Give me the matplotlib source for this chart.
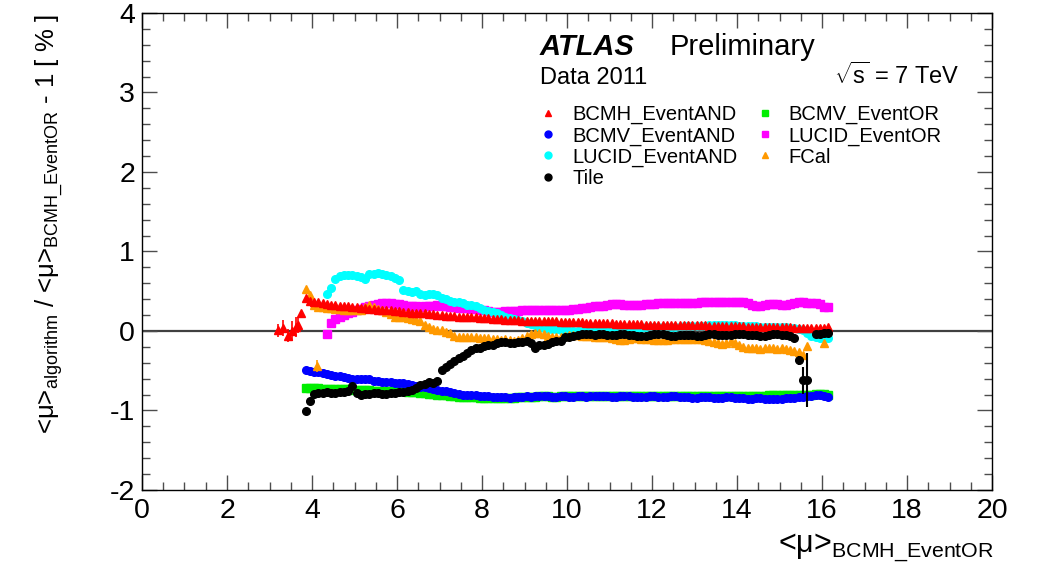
import numpy as np
import matplotlib.pyplot as plt
from matplotlib.ticker import MultipleLocator
from matplotlib.lines import Line2D

plt.rcParams['font.family'] = ['Liberation Sans', 'DejaVu Sans']
plt.rcParams['mathtext.fontset'] = 'custom'
plt.rcParams['mathtext.rm'] = 'Liberation Sans'
plt.rcParams['mathtext.it'] = 'Liberation Sans:italic'
plt.rcParams['mathtext.bf'] = 'Liberation Sans:bold'
plt.rcParams['axes.unicode_minus'] = False

nan = np.nan

# bin centres in <mu>_BCMH_EventOR
mu = np.round(3.85 + 0.1 * np.arange(124), 2)

bcmh_and = [
    0.41, 0.38, 0.37, 0.36, 0.35, 0.34, 0.33, 0.33, 0.32, 0.31,
    0.31, 0.30, 0.30, 0.29, 0.29, 0.28, 0.28, 0.27, 0.27, 0.26,
    0.26, 0.25, 0.25, 0.24, 0.24, 0.23, 0.23, 0.22, 0.22, 0.21,
    0.21, 0.20, 0.20, 0.19, 0.19, 0.19, 0.18, 0.18, 0.17, 0.17,
    0.17, 0.16, 0.16, 0.16, 0.15, 0.15, 0.15, 0.14, 0.14, 0.14,
    0.14, 0.13, 0.13, 0.13, 0.13, 0.12, 0.12, 0.12, 0.12, 0.12,
    0.11, 0.11, 0.11, 0.11, 0.11, 0.11, 0.10, 0.10, 0.10, 0.10,
    0.10, 0.10, 0.10, 0.09, 0.09, 0.09, 0.09, 0.09, 0.09, 0.09,
    0.08, 0.08, 0.08, 0.08, 0.08, 0.08, 0.08, 0.07, 0.07, 0.07,
    0.07, 0.07, 0.07, 0.07, 0.07, 0.06, 0.06, 0.06, 0.06, 0.06,
    0.06, 0.06, 0.06, 0.06, 0.05, 0.05, 0.05, 0.05, 0.05, 0.05,
    0.05, 0.05, 0.05, 0.05, 0.05, 0.04, 0.04, 0.04, 0.04, 0.04,
    0.04, 0.04, 0.04, 0.05]

# low-mu BCMH_EventAND points with their errors
bcmh_low_mu = [3.20, 3.32, 3.44, 3.53, 3.62, 3.68, 3.75]
bcmh_low_val = [0.01, 0.04, -0.06, 0.00, 0.05, 0.08, 0.23]
bcmh_low_err = [0.08, 0.10, 0.08, 0.12, 0.12, 0.10, 0.01]

bcmv_and = [
    -0.49, -0.50, -0.51, -0.52, -0.53, -0.54, -0.55, -0.56, -0.57, -0.58,
    -0.59, -0.60, -0.61, -0.60, -0.60, -0.61, -0.63, -0.63, -0.64, -0.64,
    -0.64, -0.65, -0.65, -0.66, -0.67, -0.68, -0.69, -0.70, -0.71, -0.72,
    -0.73, -0.74, -0.75, -0.76, -0.77, -0.78, -0.79, -0.80, -0.80, -0.81,
    -0.81, -0.82, -0.82, -0.82, -0.83, -0.83, -0.83, -0.83, -0.84, -0.83,
    -0.83, -0.83, -0.82, -0.83, -0.82, -0.82, -0.82, -0.82, -0.83, -0.83,
    -0.82, -0.82, -0.83, -0.83, -0.82, -0.82, -0.83, -0.82, -0.82, -0.82,
    -0.82, -0.82, -0.83, -0.83, -0.82, -0.82, -0.82, -0.83, -0.83, -0.83,
    -0.83, -0.82, -0.82, -0.83, -0.83, -0.83, -0.82, -0.82, -0.83, -0.83,
    -0.83, -0.84, -0.84, -0.83, -0.83, -0.83, -0.84, -0.84, -0.84, -0.83,
    -0.83, -0.84, -0.84, -0.84, -0.85, -0.85, -0.84, -0.84, -0.85, -0.85,
    -0.86, -0.85, -0.85, -0.84, -0.84, -0.84, -0.83, -0.83, -0.82, -0.82,
    -0.81, -0.80, -0.82, -0.83]

bcmv_or = [
    -0.72, -0.72, -0.72, -0.72, -0.73, -0.73, -0.73, -0.73, -0.73, -0.73,
    -0.73, -0.74, -0.74, -0.74, -0.74, -0.74, -0.75, -0.75, -0.75, -0.75,
    -0.76, -0.76, -0.76, -0.76, -0.77, -0.77, -0.77, -0.78, -0.78, -0.79,
    -0.79, -0.80, -0.81, -0.81, -0.82, -0.82, -0.83, -0.83, -0.83, -0.83,
    -0.83, -0.84, -0.84, -0.84, -0.84, -0.84, -0.84, -0.84, -0.84, -0.84,
    -0.83, -0.83, -0.83, -0.83, -0.83, -0.82, -0.82, -0.82, -0.83, -0.83,
    -0.82, -0.82, -0.82, -0.82, -0.82, -0.82, -0.82, -0.82, -0.82, -0.82,
    -0.82, -0.82, -0.82, -0.82, -0.82, -0.82, -0.82, -0.82, -0.82, -0.82,
    -0.82, -0.82, -0.82, -0.82, -0.82, -0.82, -0.82, -0.82, -0.82, -0.82,
    -0.82, -0.82, -0.82, -0.82, -0.82, -0.82, -0.82, -0.82, -0.82, -0.82,
    -0.82, -0.82, -0.82, -0.82, -0.82, -0.82, -0.82, -0.82, -0.82, -0.81,
    -0.81, -0.81, -0.81, -0.81, -0.81, -0.81, -0.80, -0.80, -0.80, -0.80,
    -0.79, -0.79, -0.79, -0.80]

lucid_and = [
    nan, nan, nan, nan, nan, 0.47, 0.54, 0.66, 0.69, 0.70,
    0.70, 0.70, 0.69, 0.68, 0.66, 0.72, 0.72, 0.73, 0.72, 0.71,
    0.69, 0.67, 0.64, 0.52, 0.50, 0.49, 0.50, 0.47, 0.45, 0.46,
    0.46, 0.45, 0.42, 0.40, 0.38, 0.37, 0.37, 0.35, 0.33, 0.33,
    0.31, 0.29, 0.27, 0.25, 0.24, 0.22, 0.20, 0.18, 0.16, 0.15,
    0.14, 0.12, 0.10, 0.09, 0.07, 0.05, 0.04, 0.03, 0.02, 0.02,
    0.01, 0.01, 0.00, 0.00, 0.00, 0.00, 0.01, 0.01, 0.01, 0.01,
    0.01, 0.02, 0.02, 0.03, 0.03, 0.04, 0.04, 0.04, 0.04, 0.04,
    0.05, 0.05, 0.05, 0.05, 0.05, 0.05, 0.05, 0.05, 0.05, 0.06,
    0.06, 0.06, 0.06, 0.06, 0.06, 0.07, 0.07, 0.07, 0.07, 0.07,
    0.07, 0.07, 0.06, 0.06, 0.06, 0.06, 0.06, 0.05, 0.05, 0.05,
    0.05, 0.05, 0.05, 0.05, 0.04, 0.04, 0.03, 0.01, -0.02, -0.06,
    -0.08, -0.09, -0.09, -0.09]

lucid_or = [
    nan, nan, nan, nan, nan, -0.04, 0.10, 0.15, 0.18, 0.20,
    0.22, 0.24, 0.26, 0.28, 0.30, 0.31, 0.33, 0.34, 0.35, 0.35,
    0.35, 0.34, 0.34, 0.33, 0.32, 0.31, 0.31, 0.30, 0.31, 0.32,
    0.32, 0.33, 0.32, 0.31, 0.30, 0.30, 0.29, 0.29, 0.29, 0.28,
    0.28, 0.27, 0.26, 0.25, 0.24, 0.24, 0.24, 0.25, 0.25, 0.25,
    0.25, 0.26, 0.26, 0.26, 0.26, 0.27, 0.27, 0.27, 0.26, 0.26,
    0.27, 0.27, 0.27, 0.28, 0.28, 0.29, 0.29, 0.30, 0.31, 0.31,
    0.32, 0.33, 0.34, 0.34, 0.34, 0.33, 0.33, 0.33, 0.33, 0.33,
    0.34, 0.34, 0.34, 0.35, 0.35, 0.35, 0.35, 0.35, 0.35, 0.35,
    0.35, 0.35, 0.35, 0.36, 0.36, 0.36, 0.36, 0.36, 0.37, 0.37,
    0.37, 0.37, 0.37, 0.36, 0.35, 0.33, 0.32, 0.32, 0.33, 0.34,
    0.34, 0.34, 0.33, 0.33, 0.34, 0.35, 0.36, 0.36, 0.35, 0.35,
    0.35, 0.34, 0.30, 0.30]

fcal = [
    0.53, 0.45, 0.33, 0.30, 0.30, 0.29, 0.29, 0.28, 0.28, 0.27,
    0.27, 0.26, 0.26, 0.27, 0.30, 0.33, 0.30, 0.28, 0.26, 0.24,
    0.21, 0.18, 0.18, 0.17, 0.16, 0.15, 0.14, 0.12, 0.08, 0.05,
    0.03, 0.01, 0.01, -0.01, -0.03, -0.06, -0.07, -0.07, -0.08, -0.08,
    -0.08, -0.09, -0.09, -0.09, -0.10, -0.10, -0.11, -0.10, -0.11, -0.12,
    -0.11, -0.09, -0.06, -0.04, -0.03, -0.02, -0.04, -0.06, -0.07, -0.08,
    -0.08, -0.06, -0.05, -0.05, -0.05, -0.06, -0.06, -0.06, -0.07, -0.07,
    -0.08, -0.08, -0.09, -0.10, -0.11, -0.11, -0.10, -0.09, -0.09, -0.10,
    -0.10, -0.10, -0.11, -0.11, -0.11, -0.11, -0.10, -0.10, -0.10, -0.10,
    -0.10, -0.10, -0.10, -0.10, -0.11, -0.12, -0.14, -0.15, -0.16, -0.15,
    -0.13, -0.15, -0.18, -0.20, -0.22, -0.22, -0.22, -0.23, -0.22, -0.22,
    -0.22, -0.23, -0.22, -0.23, -0.24, -0.25, -0.26, -0.30, -0.19, nan,
    nan, nan, -0.15, nan]

# isolated FCal point below the others
fcal_low_mu = [4.12]
fcal_low_val = [-0.44]
fcal_low_err = [0.08]

tile = [
    -1.01, -0.88, -0.79, -0.78, -0.78, -0.77, -0.78, -0.78, -0.77, -0.77,
    -0.76, -0.69, -0.78, -0.80, -0.79, -0.79, -0.78, -0.78, -0.79, -0.79,
    -0.78, -0.78, -0.77, -0.77, -0.76, -0.74, -0.72, -0.68, -0.67, -0.64,
    -0.65, -0.63, -0.49, -0.45, -0.41, -0.38, -0.34, -0.32, -0.28, -0.24,
    -0.22, -0.21, -0.19, -0.18, -0.17, -0.15, -0.14, -0.14, -0.15, -0.15,
    -0.14, -0.14, -0.13, -0.15, -0.22, -0.18, -0.17, -0.16, -0.14, -0.13,
    -0.12, -0.08, -0.07, -0.06, -0.05, -0.04, -0.04, -0.04, -0.05, -0.04,
    -0.04, -0.05, -0.05, -0.05, -0.04, -0.04, -0.05, -0.05, -0.06, -0.06,
    -0.06, -0.05, -0.04, -0.04, -0.04, -0.05, -0.06, -0.06, -0.05, -0.05,
    -0.05, -0.05, -0.06, -0.06, -0.05, -0.04, -0.04, -0.05, -0.05, -0.05,
    -0.05, -0.04, -0.04, -0.04, -0.05, -0.05, -0.05, -0.06, -0.06, -0.05,
    -0.04, -0.04, -0.05, -0.05, -0.06, -0.09, -0.37, -0.62, -0.62, nan,
    -0.04, -0.04, -0.03, -0.02]
tile_err = np.zeros(len(mu))
tile_err[116:119] = [0.06, 0.17, 0.34]

fig = plt.figure(figsize=(10.38, 5.77), dpi=100)
ax = fig.add_axes([0.1368, 0.1508, 0.8189, 0.8267])

ax.axhline(0, color='0.25', lw=1.6, zorder=0.5)

ms = 5.5
ax.plot(mu, bcmv_or, ls='none', marker='s', ms=ms, color='#00ee00', zorder=2)
ax.plot(mu, bcmv_and, ls='none', marker='o', ms=ms, color='#0000ff', zorder=3)
ax.plot(mu, lucid_or, ls='none', marker='s', ms=ms, color='#ff00ff', zorder=3)
ax.plot(mu, lucid_and, ls='none', marker='o', ms=ms, color='#00ffff', zorder=4)
ax.plot(mu, fcal, ls='none', marker='^', ms=ms, color='#ff9900', zorder=5)
ax.errorbar(fcal_low_mu, fcal_low_val, yerr=fcal_low_err, fmt='^', ms=ms,
            color='#ff9900', elinewidth=1.2, capsize=0, zorder=5)
ax.plot(mu, bcmh_and, ls='none', marker='^', ms=ms, color='#ff0000', zorder=6)
ax.errorbar(bcmh_low_mu, bcmh_low_val, yerr=bcmh_low_err, fmt='^', ms=ms,
            color='#ff0000', elinewidth=1.2, capsize=0, zorder=6)
ax.errorbar(mu, tile, yerr=tile_err, fmt='o', ms=ms, color='black',
            elinewidth=1.5, capsize=0, zorder=7)

ax.set_xlim(0, 20)
ax.set_ylim(-2, 4)
ax.xaxis.set_major_locator(MultipleLocator(2))
ax.xaxis.set_minor_locator(MultipleLocator(0.5))
ax.yaxis.set_major_locator(MultipleLocator(1))
ax.yaxis.set_minor_locator(MultipleLocator(0.2))
ax.tick_params(which='both', direction='in', top=True, right=True,
               color='0.3', labelsize=20.5)
ax.tick_params(which='major', length=11, width=1)
ax.tick_params(which='minor', length=5.5, width=1)
ax.tick_params(axis='x', pad=6)
ax.tick_params(axis='y', pad=5)
for sp in ax.spines.values():
    sp.set_linewidth(1.0)

handles = [
    Line2D([], [], ls='none', marker='^', ms=5, color='#ff0000'),
    Line2D([], [], ls='none', marker='o', ms=5, color='#0000ff'),
    Line2D([], [], ls='none', marker='o', ms=5, color='#00ffff'),
    Line2D([], [], ls='none', marker='o', ms=5, color='black'),
    Line2D([], [], ls='none', marker='s', ms=5, color='#00ee00'),
    Line2D([], [], ls='none', marker='s', ms=5, color='#ff00ff'),
    Line2D([], [], ls='none', marker='^', ms=5, color='#ff9900'),
]
labels = ['BCMH_EventAND', 'BCMV_EventAND', 'LUCID_EventAND', 'Tile',
          'BCMV_EventOR', 'LUCID_EventOR', 'FCal']
ax.legend(handles, labels, ncol=2, loc='upper left',
          bbox_to_anchor=(538 / 1038, 1 - 105 / 577),
          bbox_transform=fig.transFigure, frameon=False, fontsize=14.5,
          handlelength=1.0, handletextpad=0.7, columnspacing=0.85,
          labelspacing=0.1, borderpad=0, borderaxespad=0)

fig.text(540 / 1038, 1 - 55 / 577, 'ATLAS', fontsize=21, fontweight='bold',
         style='italic', va='baseline')
fig.text(670 / 1038, 1 - 55 / 577, 'Preliminary', fontsize=21, va='baseline')
fig.text(540 / 1038, 1 - 84 / 577, 'Data 2011', fontsize=17, va='baseline')
fig.text(960 / 1038, 1 - 84 / 577, r'$\sqrt{\mathrm{s}}$ = 7 TeV', fontsize=17,
         ha='right', va='baseline')

fig.text(50 / 1038, 1 - 14 / 577,
         r'<μ>$_{\mathrm{algorithm}}$ / <μ>$_{\mathrm{BCMH\_EventOR}}$ - 1 [ % ]',
         rotation=90, ha='center', va='top', fontsize=18.5)
fig.text(994 / 1038, 1 - 553 / 577, r'<μ>$_{\mathrm{BCMH\_EventOR}}$',
         ha='right', va='baseline', fontsize=22)

fig.savefig('out.png', dpi=100)
